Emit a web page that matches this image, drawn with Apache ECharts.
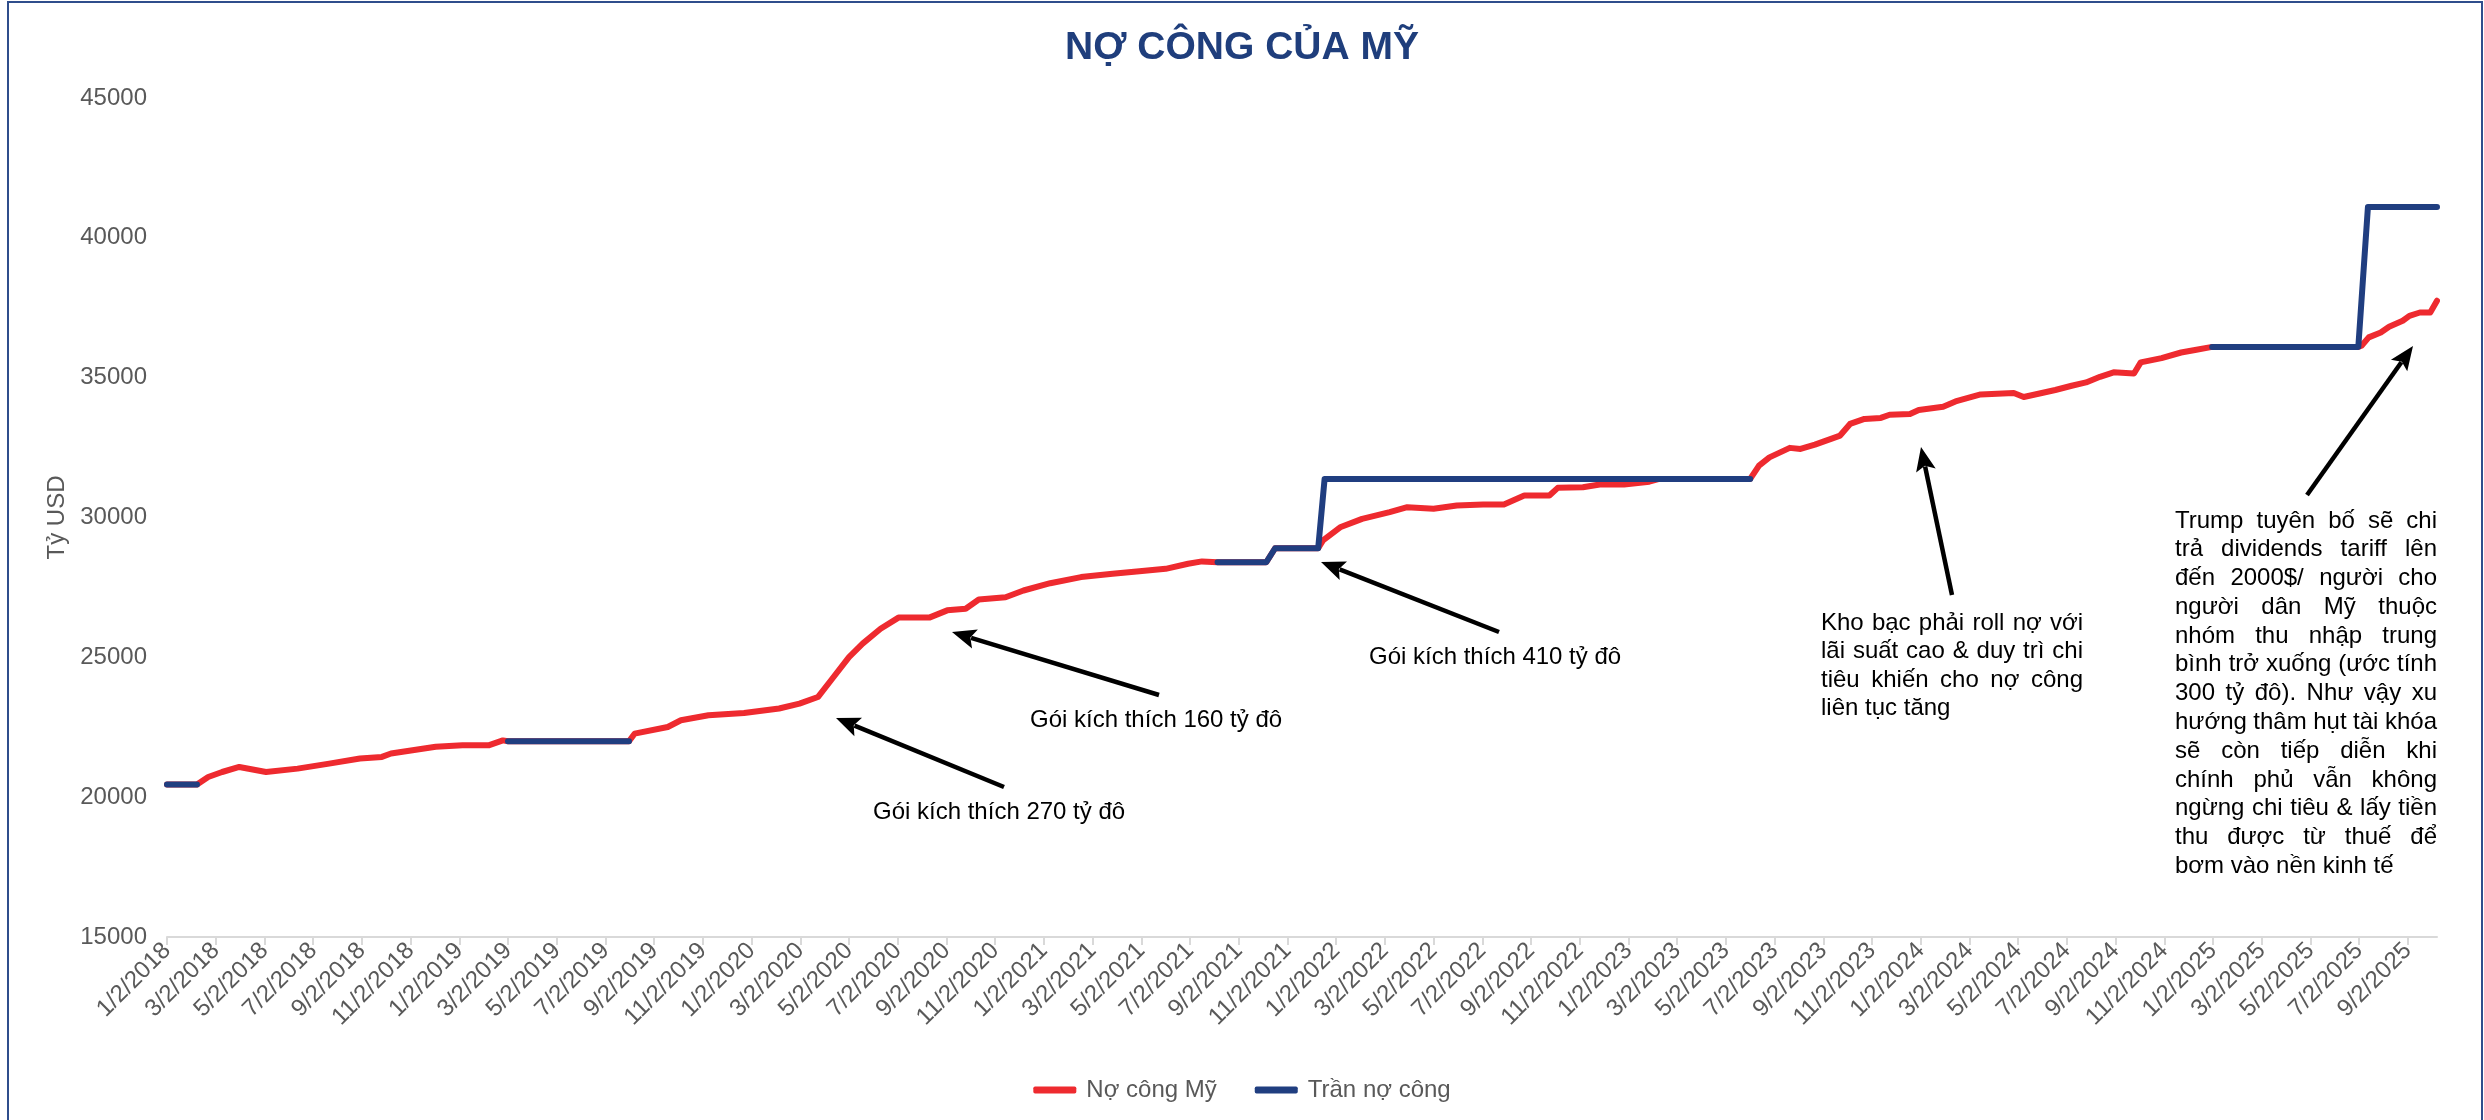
<!DOCTYPE html>
<html>
<head>
<meta charset="utf-8">
<title>Nợ công của Mỹ</title>
<script src="https://cdn.jsdelivr.net/npm/echarts@6.0.0/dist/echarts.min.js"></script>
<style>
    html, body { margin: 0; padding: 0; background: #fff; }
    #debtChart { width: 2484px; height: 1120px; }
</style>
</head>
<body>
<div id="debtChart"></div>
<script>
// nhãn trục hoành (mỗi 2 tháng)
var tickLabels = [
    '1/2/2018', '3/2/2018', '5/2/2018', '7/2/2018', '9/2/2018', '11/2/2018',
    '1/2/2019', '3/2/2019', '5/2/2019', '7/2/2019', '9/2/2019', '11/2/2019',
    '1/2/2020', '3/2/2020', '5/2/2020', '7/2/2020', '9/2/2020', '11/2/2020',
    '1/2/2021', '3/2/2021', '5/2/2021', '7/2/2021', '9/2/2021', '11/2/2021',
    '1/2/2022', '3/2/2022', '5/2/2022', '7/2/2022', '9/2/2022', '11/2/2022',
    '1/2/2023', '3/2/2023', '5/2/2023', '7/2/2023', '9/2/2023', '11/2/2023',
    '1/2/2024', '3/2/2024', '5/2/2024', '7/2/2024', '9/2/2024', '11/2/2024',
    '1/2/2025', '3/2/2025', '5/2/2025', '7/2/2025', '9/2/2025'
];
var lastDate = '10/8/2025';

// Nợ công Mỹ (tỷ USD)
var debtDates = [
    '1/2/2018', '2/9/2018', '2/23/2018', '3/10/2018', '4/1/2018', '5/4/2018', '6/13/2018',
    '7/22/2018', '8/30/2018', '9/27/2018', '10/8/2018', '12/3/2018', '1/6/2019', '2/9/2019',
    '2/26/2019', '3/2/2019', '8/1/2019', '8/8/2019', '9/19/2019', '10/5/2019', '11/9/2019',
    '12/23/2019', '2/6/2020', '3/1/2020', '3/24/2020', '4/10/2020', '5/2/2020', '5/19/2020',
    '6/11/2020', '7/3/2020', '8/11/2020', '9/3/2020', '9/26/2020', '10/12/2020', '11/15/2020',
    '12/7/2020', '1/10/2021', '2/18/2021', '3/27/2021', '4/30/2021', '6/2/2021', '6/30/2021',
    '7/17/2021', '8/6/2021', '10/6/2021', '10/17/2021', '12/10/2021', '12/16/2021', '1/7/2022',
    '2/4/2022', '3/8/2022', '3/30/2022', '5/2/2022', '5/31/2022', '7/3/2022', '7/29/2022',
    '8/24/2022', '9/25/2022', '10/5/2022', '11/6/2022', '11/27/2022', '12/27/2022', '1/28/2023',
    '2/10/2023', '6/2/2023', '6/13/2023', '6/26/2023', '7/21/2023', '8/4/2023', '8/22/2023',
    '9/23/2023', '10/5/2023', '10/23/2023', '11/13/2023', '11/24/2023', '12/19/2023', '12/30/2023',
    '1/30/2024', '2/15/2024', '3/16/2024', '4/27/2024', '5/9/2024', '6/18/2024', '7/8/2024',
    '7/26/2024', '8/13/2024', '8/30/2024', '9/25/2024', '10/3/2024', '10/29/2024', '11/23/2024',
    '12/10/2024', '1/1/2025', '7/1/2025', '7/5/2025', '7/14/2025', '7/29/2025', '8/9/2025',
    '8/26/2025', '9/4/2025', '9/17/2025', '9/30/2025', '10/8/2025'
];
var debtValues = [
    20450, 20450, 20720, 20900, 21080, 20900, 21020,
    21200, 21380, 21440, 21560, 21800, 21860, 21860,
    22030, 22000, 22000, 22270, 22510, 22750, 22930,
    23010, 23170, 23345, 23580, 24180, 25010, 25490,
    26020, 26420, 26420, 26680, 26740, 27070, 27150,
    27390, 27650, 27870, 27985, 28080, 28165, 28345,
    28430, 28400, 28400, 28900, 28900, 29180, 29650,
    29950, 30190, 30370, 30310, 30430, 30465, 30465,
    30785, 30785, 31060, 31080, 31180, 31180, 31280,
    31380, 31380, 31855, 32150, 32490, 32450, 32605,
    32930, 33345, 33525, 33560, 33675, 33700, 33845,
    33960, 34150, 34400, 34450, 34310, 34560, 34710,
    34830, 35030, 35190, 35150, 35545, 35700, 35900,
    35990, 36100, 36100, 36140, 36440, 36615, 36820,
    37035, 37210, 37330, 37330, 37750
];

// Trần nợ công (null = trần bị đình chỉ)
var ceilingDates = [
    '1/2/2018', '2/9/2018', '6/1/2018',
    '3/2/2019', '8/1/2019', '6/1/2020',
    '8/6/2021', '10/6/2021', '10/17/2021', '12/10/2021', '12/18/2021', '6/2/2023', '3/1/2024',
    '1/1/2025', '7/1/2025', '7/13/2025', '10/8/2025'
];
var ceilingValues = [
    20450, 20450, null,
    22000, 22000, null,
    28400, 28400, 28900, 28900, 31380, 31380, null,
    36100, 36100, 41100, 41100
];

var textFont = '"Liberation Sans", Arial, sans-serif';

// số tháng tính từ 1/2/2018
function monthIndex(str) {
    var p = str.split('/');
    return (Number(p[2]) - 2018) * 12 + (Number(p[0]) - 1) + (Number(p[1]) - 2) / 30.4;
}

function toPairs(dates, values) {
    var out = [];
    for (var i = 0; i < dates.length; i++) {
        out.push([monthIndex(dates[i]), values[i] === null ? '-' : values[i]]);
    }
    return out;
}

var tickValues = [];
for (var i = 0; i < tickLabels.length; i++) {
    tickValues.push(i * 2);
}

// chữ căn đều hai bên
var measureCtx = document.createElement('canvas').getContext('2d');
measureCtx.font = '24px ' + textFont;

function textEl(txt, x, y) {
    return {
        type: 'text',
        x: x,
        y: y,
        silent: true,
        style: {
            text: txt,
            fill: '#000',
            font: '24px ' + textFont,
            verticalAlign: 'middle'
        }
    };
}

function justifiedBlock(lines, left, top, width, lineHeight) {
    var els = [];
    lines.forEach(function (line, idx) {
        var y = top + idx * lineHeight;
        if (idx === lines.length - 1) {
            els.push(textEl(line, left, y));
            return;
        }
        var words = line.split(' ');
        var sum = 0;
        words.forEach(function (w) { sum += measureCtx.measureText(w).width; });
        var gap = (width - sum) / (words.length - 1);
        var x = left;
        words.forEach(function (w) {
            els.push(textEl(w, x, y));
            x += measureCtx.measureText(w).width + gap;
        });
    });
    return els;
}

// mũi tên: thân + đầu tam giác
function arrowEls(tail, head) {
    var dx = head[0] - tail[0], dy = head[1] - tail[1];
    var len = Math.sqrt(dx * dx + dy * dy);
    var ux = dx / len, uy = dy / len;
    var nx = -uy, ny = ux;
    var L = 24, W = 10;
    var bx = head[0] - ux * L, by = head[1] - uy * L;
    return [
        {
            type: 'line',
            silent: true,
            shape: { x1: tail[0], y1: tail[1], x2: bx + ux * 4, y2: by + uy * 4 },
            style: { stroke: '#000', lineWidth: 4.5 }
        },
        {
            type: 'polygon',
            silent: true,
            shape: {
                points: [
                    [head[0], head[1]],
                    [bx + nx * W, by + ny * W],
                    [head[0] - ux * L * 0.8, head[1] - uy * L * 0.8],
                    [bx - nx * W, by - ny * W]
                ]
            },
            style: { fill: '#000' }
        }
    ];
}

var khoBacLines = [
    'Kho bạc phải roll nợ với',
    'lãi suất cao & duy trì chi',
    'tiêu khiến cho nợ công',
    'liên tục tăng'
];
var trumpLines = [
    'Trump tuyên bố sẽ chi',
    'trả dividends tariff lên',
    'đến 2000$/ người cho',
    'người dân Mỹ thuộc',
    'nhóm thu nhập trung',
    'bình trở xuống (ước tính',
    '300 tỷ đô). Như vậy xu',
    'hướng thâm hụt tài khóa',
    'sẽ còn tiếp diễn khi',
    'chính phủ vẫn không',
    'ngừng chi tiêu & lấy tiền',
    'thu được từ thuế để',
    'bơm vào nền kinh tế'
];

// vị trí mũi tên (pixel): [đuôi, đầu]
var arrows = [
    [[1004, 787], [836, 718]],
    [[1159, 695], [952, 632]],
    [[1499, 632], [1321, 562]],
    [[1952, 595], [1921, 447]],
    [[2307, 495], [2413, 346]]
];

var graphics = [
    {
        type: 'rect',
        silent: true,
        z: -10,
        shape: { x: 8, y: 2, width: 2474, height: 1140 },
        style: { fill: 'none', stroke: '#2f4d8c', lineWidth: 2 }
    },
    textEl('Gói kích thích 270 tỷ đô', 873, 812),
    textEl('Gói kích thích 160 tỷ đô', 1030, 720),
    textEl('Gói kích thích 410 tỷ đô', 1369, 657)
];
graphics = graphics.concat(justifiedBlock(khoBacLines, 1821, 623, 262, 28.5));
graphics = graphics.concat(justifiedBlock(trumpLines, 2175, 521, 262, 28.77));
arrows.forEach(function (a) {
    graphics = graphics.concat(arrowEls(a[0], a[1]));
});

var chart = echarts.init(document.getElementById('debtChart'), null, { renderer: 'canvas' });

var option = {
    backgroundColor: '#fff',
    animation: false,
    textStyle: { fontFamily: textFont },
    title: {
        text: 'NỢ CÔNG CỦA MỸ',
        left: 'center',
        top: 24,
        textStyle: {
            color: '#1f3e7c',
            fontSize: 39,
            fontWeight: 'bold',
            fontFamily: textFont
        }
    },
    legend: {
        bottom: 13,
        left: 'center',
        itemWidth: 43,
        itemHeight: 7,
        itemGap: 38,
        icon: 'roundRect',
        textStyle: {
            color: '#595959',
            fontSize: 24,
            padding: [0, 0, 0, 5]
        },
        data: ['Nợ công Mỹ', 'Trần nợ công']
    },
    grid: {
        left: 167,
        right: 47,
        top: 98,
        bottom: 183,
        containLabel: false,
        outerBoundsMode: 'none'
    },
    xAxis: {
        type: 'value',
        min: 0,
        max: monthIndex(lastDate),
        interval: 2,
        axisLine: {
            show: true,
            lineStyle: { color: '#d9d9d9', width: 2 }
        },
        axisTick: {
            show: true,
            length: 8,
            customValues: tickValues,
            lineStyle: { color: '#d9d9d9', width: 2 }
        },
        axisLabel: {
            customValues: tickValues,
            rotate: 45,
            margin: 10,
            color: '#595959',
            fontSize: 24,
            formatter: function (v) {
                var k = Math.round(v / 2);
                return tickLabels[k] || '';
            }
        },
        splitLine: { show: false }
    },
    yAxis: {
        type: 'value',
        min: 15000,
        max: 45000,
        interval: 5000,
        name: 'Tỷ USD',
        nameLocation: 'middle',
        nameGap: 89,
        nameTextStyle: { color: '#595959', fontSize: 24 },
        axisLine: { show: false },
        axisTick: { show: false },
        splitLine: { show: false },
        axisLabel: {
            color: '#595959',
            fontSize: 24,
            margin: 20,
            formatter: function (v) { return String(v); }
        }
    },
    series: [
        {
            name: 'Nợ công Mỹ',
            type: 'line',
            showSymbol: false,
            symbol: 'none',
            z: 2,
            itemStyle: { color: '#ee2a2f' },
            lineStyle: { color: '#ee2a2f', width: 6, cap: 'round', join: 'round' },
            data: toPairs(debtDates, debtValues)
        },
        {
            name: 'Trần nợ công',
            type: 'line',
            showSymbol: false,
            symbol: 'none',
            z: 3,
            connectNulls: false,
            itemStyle: { color: '#203e80' },
            lineStyle: { color: '#203e80', width: 6, cap: 'round', join: 'round' },
            data: toPairs(ceilingDates, ceilingValues)
        }
    ],
    graphic: graphics
};

chart.setOption(option);
</script>
</body>
</html>
